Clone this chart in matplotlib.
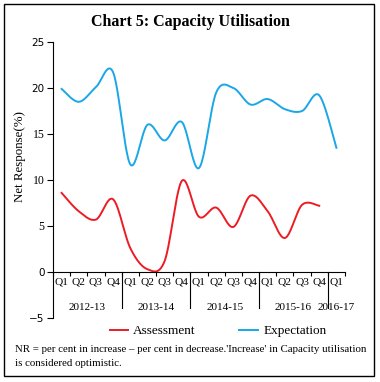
import numpy as np
import matplotlib.pyplot as plt

plt.rcParams['font.family'] = ['Liberation Serif', 'DejaVu Serif']

quarters = ["Q1", "Q2", "Q3", "Q4"] * 4 + ["Q1"]
years = ["2012-13", "2013-14", "2014-15", "2015-16", "2016-17"]
assessment = [8.6, 6.6, 5.7, 7.9, 2.6, 0.3, 1.2, 9.9,
              6.0, 7.0, 4.9, 8.3, 6.6, 3.7, 7.3, 7.2]
expectation = [19.9, 18.5, 20.1, 21.7, 11.7, 16.0, 14.3, 16.3,
               11.3, 19.5, 20.0, 18.2, 18.8, 17.7, 17.5, 19.2, 13.5]

RED = "#ED1C24"
BLUE = "#1AA7E8"


def smooth(xs, ys, n=24):
  # Catmull-Rom style smoothing between points (like Excel's smoothed line)
  xs = np.asarray(xs, float)
  ys = np.asarray(ys, float)
  px = np.concatenate([[xs[0]], xs, [xs[-1]]])
  py = np.concatenate([[ys[0]], ys, [ys[-1]]])
  out_x, out_y = [], []
  t = np.linspace(0, 1, n, endpoint=False)
  for i in range(1, len(px) - 2):
    p0 = np.array([px[i], py[i]])
    p3 = np.array([px[i + 1], py[i + 1]])
    c1 = p0 + (np.array([px[i + 1], py[i + 1]]) - np.array([px[i - 1], py[i - 1]])) / 6
    c2 = p3 - (np.array([px[i + 2], py[i + 2]]) - np.array([px[i], py[i]])) / 6
    b = ((1 - t) ** 3)[:, None] * p0 + (3 * (1 - t) ** 2 * t)[:, None] * c1 \
        + (3 * (1 - t) * t ** 2)[:, None] * c2 + (t ** 3)[:, None] * p3
    out_x.extend(b[:, 0])
    out_y.extend(b[:, 1])
  out_x.append(xs[-1])
  out_y.append(ys[-1])
  return np.array(out_x), np.array(out_y)


fig = plt.figure(figsize=(3.8, 3.82), dpi=100)
ax = fig.add_axes([53 / 380, 1 - 318 / 382, 292 / 380, 276 / 382])

xa, ya = smooth(range(len(assessment)), assessment)
xe, ye = smooth(range(len(expectation)), expectation)
ax.plot(xa, ya, color=RED, lw=1.4, label="Assessment")
ax.plot(xe, ye, color=BLUE, lw=1.4, label="Expectation")

ax.set_xlim(-0.5, len(quarters) - 0.5)
ax.set_ylim(-5, 25)
ax.set_yticks(range(-5, 26, 5))
ax.tick_params(axis="y", length=4, width=0.8, pad=2)
# the source mixes fonts in the y tick labels
for lab, v in zip(ax.get_yticklabels(), range(-5, 26, 5)):
  if v in (-5, 0, 20, 25):
    lab.set_family("DejaVu Sans")
    lab.set_fontsize(7.5)
  else:
    lab.set_fontsize(8.5)

for s in ["top", "right"]:
  ax.spines[s].set_visible(False)
ax.spines["bottom"].set_position(("data", 0))
ax.spines["left"].set_linewidth(0.8)
ax.spines["bottom"].set_linewidth(0.8)
ax.set_xticks(np.arange(-0.5, len(quarters), 1))
ax.set_xticklabels([])
ax.tick_params(axis="x", length=3, width=0.8, direction="out")

for i, q in enumerate(quarters):
  ax.text(i, -1.1, q, ha="center", va="center", fontsize=8.2, clip_on=False)
for k, yr in enumerate(years):
  start = 4 * k - 0.5
  end = min(start + 4, len(quarters) - 0.5)
  ax.text((start + end) / 2, -3.9, yr, ha="center", va="center", fontsize=8, clip_on=False)
  if k > 0:
    ax.plot([start, start], [0, -3.9], color="black", lw=0.8, clip_on=False)

fig.text(20 / 380, 1 - 156 / 382, "Net Response(%)", rotation=90,
         ha="center", va="center", fontsize=9.3)
fig.text(0.5, 1 - 22 / 382, "Chart 5: Capacity Utilisation",
         ha="center", va="center", fontsize=11.5, fontweight="bold")

fig.legend(loc="center", bbox_to_anchor=(218 / 380, 1 - 331 / 382), ncol=2,
           frameon=False, fontsize=9.5, handlelength=1.4, columnspacing=3.3,
           handletextpad=0.4)

fig.text(15 / 380, 1 - 350 / 382,
         "NR = per cent in increase \u2013 per cent in decrease.'Increase' in Capacity utilisation",
         ha="left", va="center", fontsize=7.8)
fig.text(15 / 380, 1 - 363 / 382, "is considered optimistic.",
         ha="left", va="center", fontsize=7.8)

fig.add_artist(plt.Rectangle((4 / 380, 6 / 382), 370 / 380, 372 / 382,
                             transform=fig.transFigure, fill=False,
                             edgecolor="black", lw=1.0))

fig.savefig("out.png", dpi=100)
